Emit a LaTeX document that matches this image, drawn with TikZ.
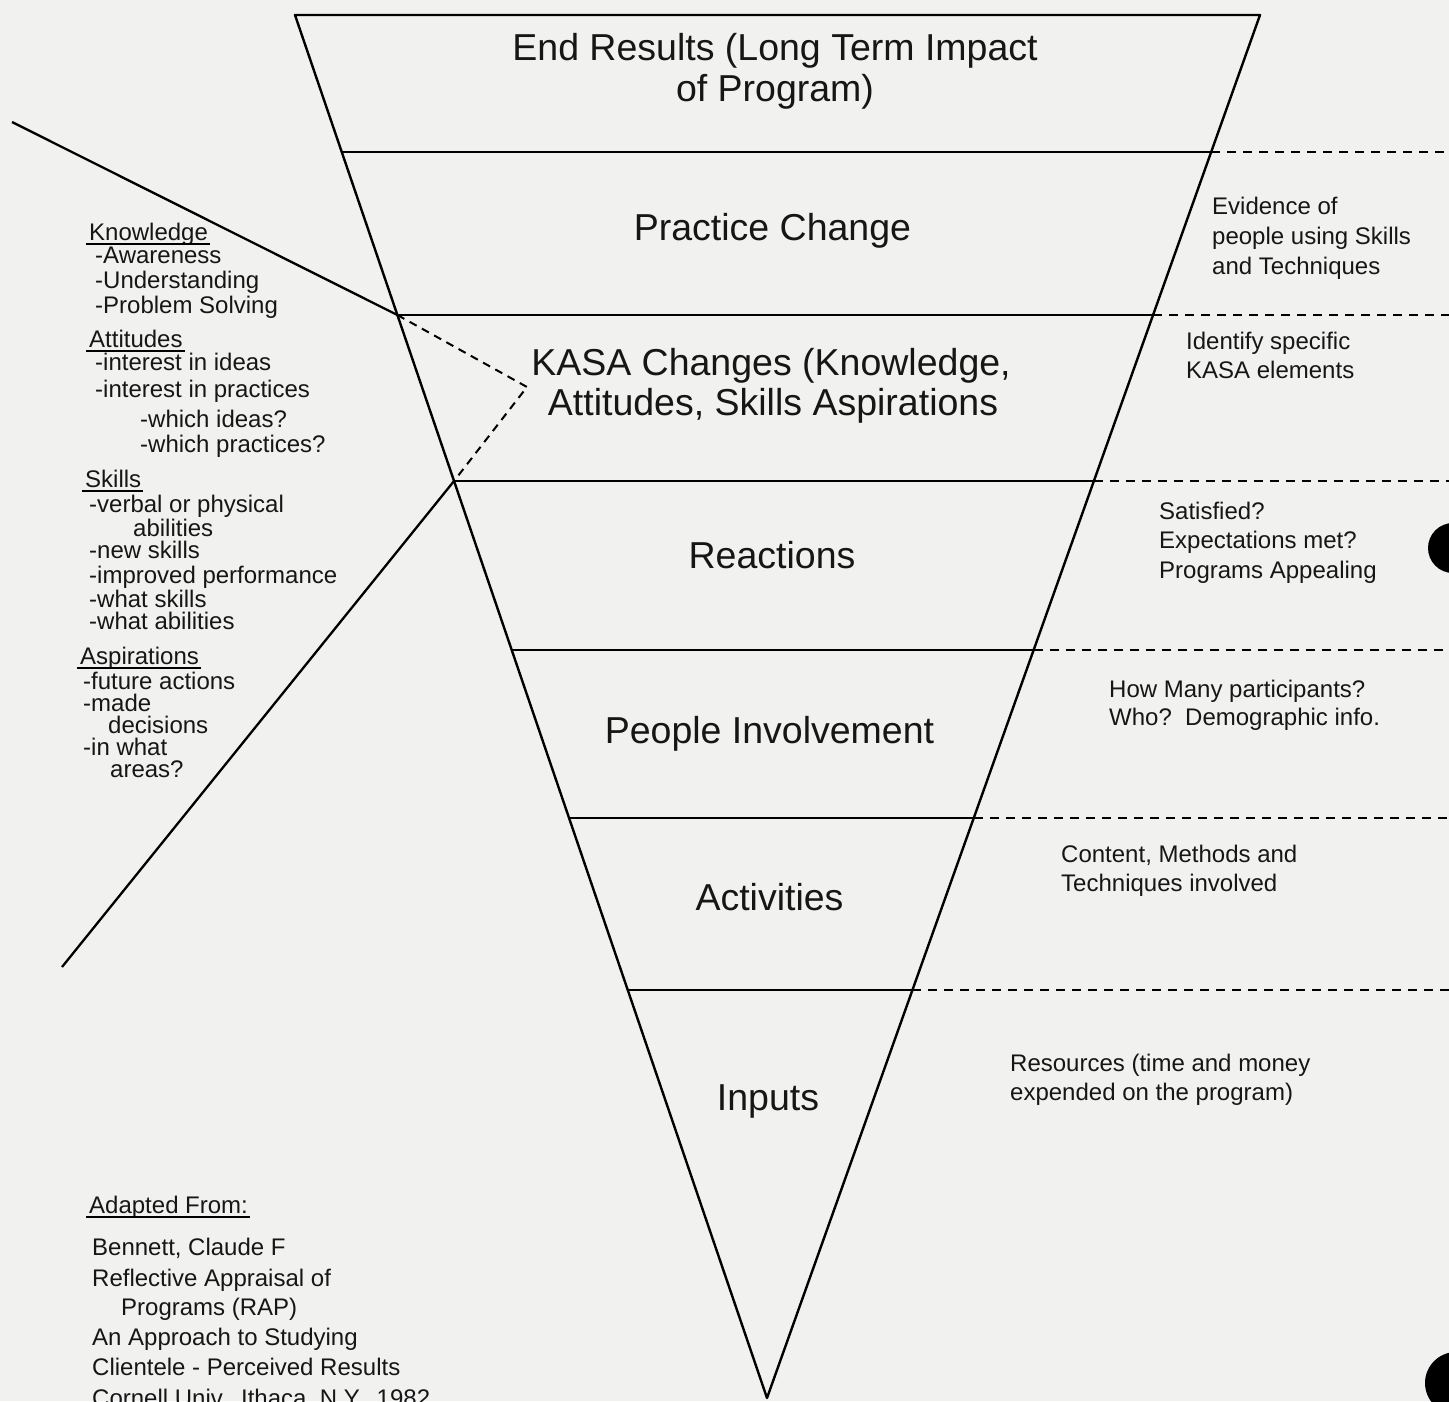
\documentclass[tikz,border=0pt]{standalone}
\usepackage{fontspec}
\setmainfont{Liberation Sans}
\usetikzlibrary{calc}
\definecolor{paper}{RGB}{241,241,240}
\definecolor{ink}{RGB}{22,22,22}
\begin{document}
\begin{tikzpicture}[x=1pt,y=-1pt,
  edge/.style={line width=2.4pt,line join=round},
  level/.style={line width=2.4pt},
  guide/.style={line width=2pt,dash pattern=on 9pt off 7pt},
  pointer/.style={line width=2.3pt},
  hint/.style={line width=2pt,dash pattern=on 8pt off 6pt},
  stage/.style={font=\fontsize{37.5}{41}\selectfont,text=ink,inner sep=0pt,anchor=base},
  note/.style={font=\fontsize{24}{30}\selectfont,text=ink,inner sep=0pt,anchor=base west},
  uline/.style={line width=1.8pt}]

% sheet
\fill[paper] (0,0) rectangle (1449,1401);
\path[use as bounding box] (0,0) rectangle (1449,1401);

% inverted triangle and its levels
\coordinate (TL) at (295,15);
\coordinate (TR) at (1260,15);
\coordinate (AP) at (767,1398);
\coordinate (edge) at (1449,0);
\path (TL) -- (AP)
  coordinate[pos=0.09906] (L1) coordinate[pos=0.21692] (L2)
  coordinate[pos=0.33695] (L3) coordinate[pos=0.45915] (L4)
  coordinate[pos=0.58062] (L5) coordinate[pos=0.70499] (L6);
\path (TR) -- (AP)
  coordinate[pos=0.09906] (R1) coordinate[pos=0.21692] (R2)
  coordinate[pos=0.33695] (R3) coordinate[pos=0.45915] (R4)
  coordinate[pos=0.58062] (R5) coordinate[pos=0.70499] (R6);

\draw[edge] (TL) -- (TR) -- (AP) -- cycle;
\foreach \i in {1,...,6}{
  \draw[level] (L\i) -- (R\i);
  \draw[guide] (R\i) -- (R\i -| edge);
}

% bracket pointing at the KASA level
\coordinate (p1) at (12,122);
\coordinate (p2) at (62,967);
\coordinate (tip) at (527,387);
\draw[pointer] (p1) -- (L2);
\draw[pointer] (L3) -- (p2);
\draw[hint] (L2) -- (tip) -- (L3);

% level names
\node[stage] (end1) at (775,60) {End Results (Long Term Impact};
\node[stage] (end2) at (775,101) {of Program)};
\node[stage] (practice) at (772.5,240) {Practice Change};
\node[stage] (kasa1) at (771,375) {KASA Changes (Knowledge,};
\node[stage] (kasa2) at (773,415) {Attitudes, Skills Aspirations};
\node[stage] (react) at (772,568) {Reactions};
\node[stage] (people) at (769.5,743) {People Involvement};
\node[stage] (activ) at (769.5,910) {Activities};
\node[stage] (inputs) at (768,1110) {Inputs};

% evidence for each level
\node[note] (ev1) at (1212,214) {Evidence of};
\node[note] (ev2) at (1212,244) {people using Skills};
\node[note] (ev3) at (1212,274) {and Techniques};
\node[note] (id1) at (1186,349) {Identify specific};
\node[note] (id2) at (1186,378) {KASA elements};
\node[note] (sa1) at (1159,519) {Satisfied?};
\node[note] (sa2) at (1159,548) {Expectations met?};
\node[note] (sa3) at (1159,578) {Programs Appealing};
\node[note] (hm1) at (1109,697) {How Many participants?};
\node[note] (hm2) at (1109,725) {Who?~~Demographic info.};
\node[note] (ct1) at (1061,862) {Content, Methods and};
\node[note] (ct2) at (1061,891) {Techniques involved};
\node[note] (rs1) at (1010,1071) {Resources (time and money};
\node[note] (rs2) at (1010,1100) {expended on the program)};

% KASA breakdown
\node[note] (kn) at (89,240) {Knowledge};
\node[note] (kn1) at (95,263) {-Awareness};
\node[note] (kn2) at (95,288) {-Understanding};
\node[note] (kn3) at (95,313) {-Problem Solving};
\node[note] (at) at (89,347) {Attitudes};
\node[note] (at1) at (95,370) {-interest in ideas};
\node[note] (at2) at (95,397) {-interest in practices};
\node[note] (at3) at (140,427) {-which ideas?};
\node[note] (at4) at (140,452) {-which practices?};
\node[note] (sk) at (85,487) {Skills};
\node[note] (sk1) at (89,512) {-verbal or physical};
\node[note] (sk2) at (133,536) {abilities};
\node[note] (sk3) at (89,558) {-new skills};
\node[note] (sk4) at (89,583) {-improved performance};
\node[note] (sk5) at (89,607) {-what skills};
\node[note] (sk6) at (89,629) {-what abilities};
\node[note] (as) at (80,664) {Aspirations};
\node[note] (as1) at (83,689) {-future actions};
\node[note] (as2) at (83,711) {-made};
\node[note] (as3) at (108,733) {decisions};
\node[note] (as4) at (83,755) {-in what};
\node[note] (as5) at (110,777) {areas?};

% source
\node[note] (ad) at (89,1213) {Adapted From:};
\node[note] (bn1) at (92,1255) {Bennett, Claude F};
\node[note] (bn2) at (92,1286) {Reflective Appraisal of};
\node[note] (bn3) at (121,1315) {Programs (RAP)};
\node[note] (bn4) at (92,1345) {An Approach to Studying};
\node[note] (bn5) at (92,1375) {Clientele - Perceived Results};
\node[note] (bn6) at (92,1406) {Cornell Univ., Ithaca, N.Y., 1982};

% heading underlines
\foreach \h in {kn,at,sk,as,ad}{
  \draw[uline] ([xshift=-3pt,yshift=-4pt]\h.base west) -- ([xshift=2pt,yshift=-4pt]\h.base east);
}

% binder holes
\fill[black] (1453,548) circle (25pt);
\fill[black] (1456,1383) circle (31pt);
\end{tikzpicture}
\end{document}
